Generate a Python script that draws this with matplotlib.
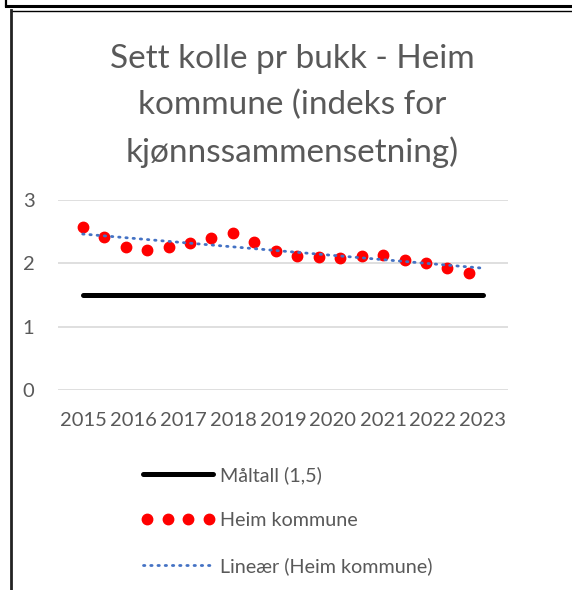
import numpy as np
import matplotlib
matplotlib.use('Agg')
import matplotlib.pyplot as plt
from matplotlib.lines import Line2D
from matplotlib.legend_handler import HandlerLine2D

# Data
years = ['2015', '2016', '2017', '2018', '2019', '2020', '2021', '2022', '2023']
target = [1.5, 1.5, 1.5, 1.5, 1.5, 1.5, 1.5, 1.5, 1.5]
heim = [2.58, 2.41, 2.26, 2.21, 2.26, 2.32, 2.40, 2.48, 2.34, 2.20,
        2.11, 2.10, 2.09, 2.11, 2.13, 2.06, 2.01, 1.93, 1.85]

plt.rcParams['font.family'] = ['Lato', 'DejaVu Sans']
grey = '#595959'
dots = (0, (0.5, 2.1))

W, H = 572, 590
fig = plt.figure(figsize=(W / 100, H / 100), dpi=100)

ax = fig.add_axes([58 / W, 1 - 390 / H, 450 / W, 190 / H])
x = np.arange(len(years))
ax.plot(x, target, color='black', linewidth=3.6, solid_capstyle='round',
        label='Måltall (1,5)', zorder=2)
ax.set_xlim(-0.5, len(years) - 0.5)
ax.set_ylim(0, 3)
ax.set_yticks([0, 1, 2, 3])
ax.set_xticks(x)
ax.set_xticklabels(years)
ax.tick_params(axis='both', length=0, labelsize=14.5, labelcolor=grey)
ax.tick_params(axis='x', pad=16)
ax.tick_params(axis='y', pad=17)
ax.grid(axis='y', color='#d9d9d9', linewidth=1.2)
ax.set_axisbelow(True)
for s in ax.spines.values():
    s.set_visible(False)

# secondary category axis for the Heim series
ax2 = ax.twiny()
xi = np.arange(len(heim))
ax2.set_xlim(-1.15, 19.82)
ax2.plot(xi, heim, linestyle='none', marker='o', markersize=7.5,
         color='#ff0000', label='Heim kommune', zorder=3)
coef = np.polyfit(xi, heim, 1)
xt = np.array([0, 18.64])
ax2.plot(xt, np.polyval(coef, xt), linestyle=dots, color='#4472c4',
         linewidth=2, dash_capstyle='round', label='Lineær (Heim kommune)', zorder=4)
ax2.set_xticks([])
for s in ax2.spines.values():
    s.set_visible(False)

fig.text(292 / W, 1 - 106 / H,
         'Sett kolle pr bukk - Heim\nkommune (indeks for\nkjønnssammensetning)',
         ha='center', va='center', fontsize=24, color=grey, linespacing=1.64)

handles = [
    Line2D([], [], color='black', linewidth=3.6, solid_capstyle='round'),
    Line2D([], [], color='#ff0000', linestyle='none', marker='o', markersize=7.5),
    Line2D([], [], color='#4472c4', linewidth=2, linestyle=dots,
           dash_capstyle='round'),
]
labels = ['Måltall (1,5)', 'Heim kommune', 'Lineær (Heim kommune)']
leg = fig.legend(handles, labels, loc='upper left',
                 bbox_to_anchor=(143 / W, 1 - 466 / H), frameon=False,
                 fontsize=14.2, labelcolor=grey, handlelength=3.55,
                 handletextpad=0.35, labelspacing=1.42, borderpad=0,
                 borderaxespad=0,
                 handler_map={handles[1]: HandlerLine2D(numpoints=4, marker_pad=0.2)})

# chart frame lines
def px_line(x0, y0, x1, y1, lw, color='black'):
    fig.add_artist(Line2D([x0 / W, x1 / W], [1 - y0 / H, 1 - y1 / H],
                          color=color, linewidth=lw, transform=fig.transFigure))

px_line(6, 0, 6, 6, 1.6)
px_line(6, 6, W, 6, 2.2)
px_line(11, 10.5, W, 10.5, 1.0)
px_line(11, 10, 11, H, 2.0, color='#222222')

plt.savefig('out.png', dpi=100)
